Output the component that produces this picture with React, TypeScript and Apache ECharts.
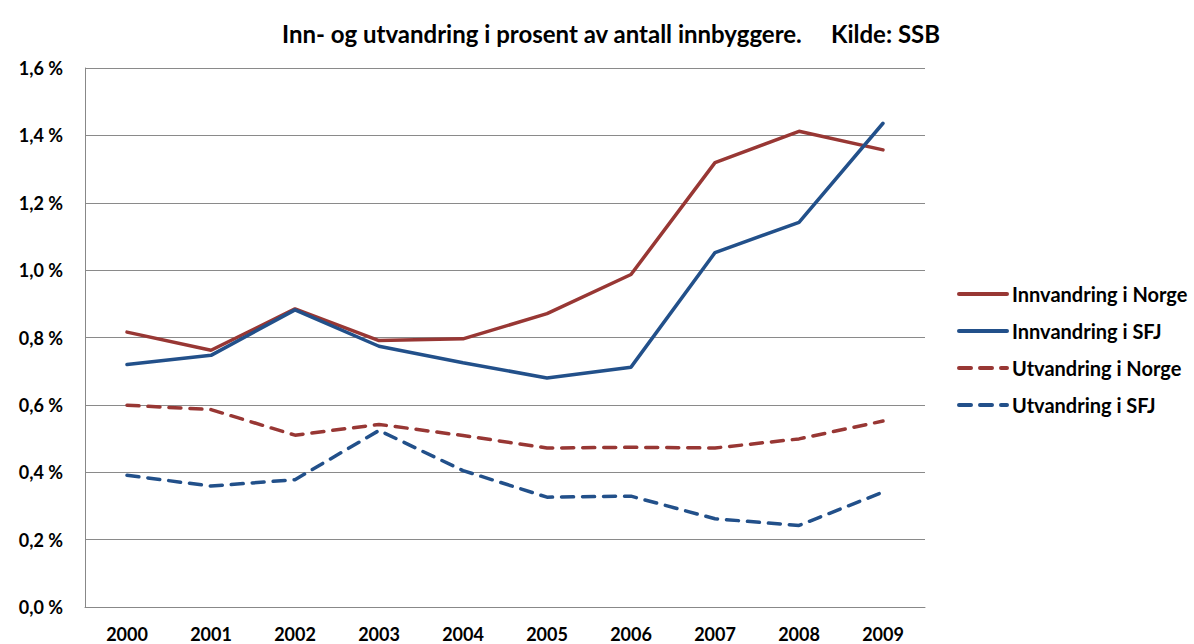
import React, { useEffect, useRef } from "react";
import * as echarts from "echarts";

const years = ["2000", "2001", "2002", "2003", "2004", "2005", "2006", "2007", "2008", "2009"];
const innNorge = [0.816, 0.762, 0.885, 0.791, 0.796, 0.871, 0.987, 1.319, 1.412, 1.357];
const innSFJ = [0.72, 0.747, 0.882, 0.774, 0.725, 0.68, 0.712, 1.052, 1.142, 1.436];
const utNorge = [0.599, 0.586, 0.51, 0.542, 0.509, 0.472, 0.474, 0.472, 0.499, 0.552];
const utSFJ = [0.391, 0.359, 0.378, 0.524, 0.405, 0.326, 0.329, 0.262, 0.242, 0.341];

const RED = "#983734";
const BLUE = "#22508A";
const FONT = "Lato";

export default function App() {
  const ref = useRef<HTMLDivElement>(null);
  useEffect(() => {
    const chart = echarts.init(ref.current!, null, { renderer: "svg" });
    const mk = (name: string, data: number[], color: string, dashed: boolean) => ({
      name,
      type: "line",
      data,
      symbol: "none",
      lineStyle: { color, width: 3.5, type: dashed ? [12, 9] : "solid", cap: "round" },
      itemStyle: { color },
    });
    chart.setOption({
      animation: false,
      backgroundColor: "#ffffff",
      title: {
        text: "Inn- og utvandring i prosent av antall innbyggere.\u00a0\u00a0\u00a0\u00a0\u00a0Kilde: SSB",
        left: 606,
        textAlign: "center",
        top: 16,
        textStyle: { fontFamily: FONT, fontWeight: "bold", fontSize: 24, color: "#000" },
      },
      legend: {
        orient: "vertical",
        left: 952,
        top: 279,
        itemWidth: 48,
        itemHeight: 14,
        itemGap: 17,
        itemStyle: { opacity: 0 },
        lineStyle: { width: 4 },
        textStyle: { fontFamily: FONT, fontWeight: "bold", fontSize: 20, color: "#000" },
        data: ["Innvandring i Norge", "Innvandring i SFJ", "Utvandring i Norge", "Utvandring i SFJ"],
      },
      grid: { left: 85, right: 269, top: 68, bottom: 37, containLabel: false },
      xAxis: {
        type: "category",
        data: years,
        boundaryGap: true,
        axisLine: { lineStyle: { color: "#888", width: 1 } },
        axisTick: { show: false },
        axisLabel: {
          fontFamily: FONT,
          fontWeight: "bold",
          fontSize: 18,
          color: "#000",
          margin: 18,
        },
      },
      yAxis: {
        type: "value",
        min: 0,
        max: 1.6,
        interval: 0.2,
        axisLine: { show: true, lineStyle: { color: "#888", width: 1 } },
        axisTick: { show: false },
        splitLine: { lineStyle: { color: "#8a8a8a", width: 1 } },
        axisLabel: {
          fontFamily: FONT,
          fontWeight: "bold",
          fontSize: 18,
          color: "#000",
          margin: 22,
          formatter: (v: number) => v.toFixed(1).replace(".", ",") + " %",
        },
      },
      series: [
        mk("Innvandring i Norge", innNorge, RED, false),
        mk("Innvandring i SFJ", innSFJ, BLUE, false),
        mk("Utvandring i Norge", utNorge, RED, true),
        mk("Utvandring i SFJ", utSFJ, BLUE, true),
      ],
    });
    return () => chart.dispose();
  }, []);
  return <div ref={ref} style={{ width: 1194, height: 644, position: "fixed", left: 0, top: 0 }} />;
}
